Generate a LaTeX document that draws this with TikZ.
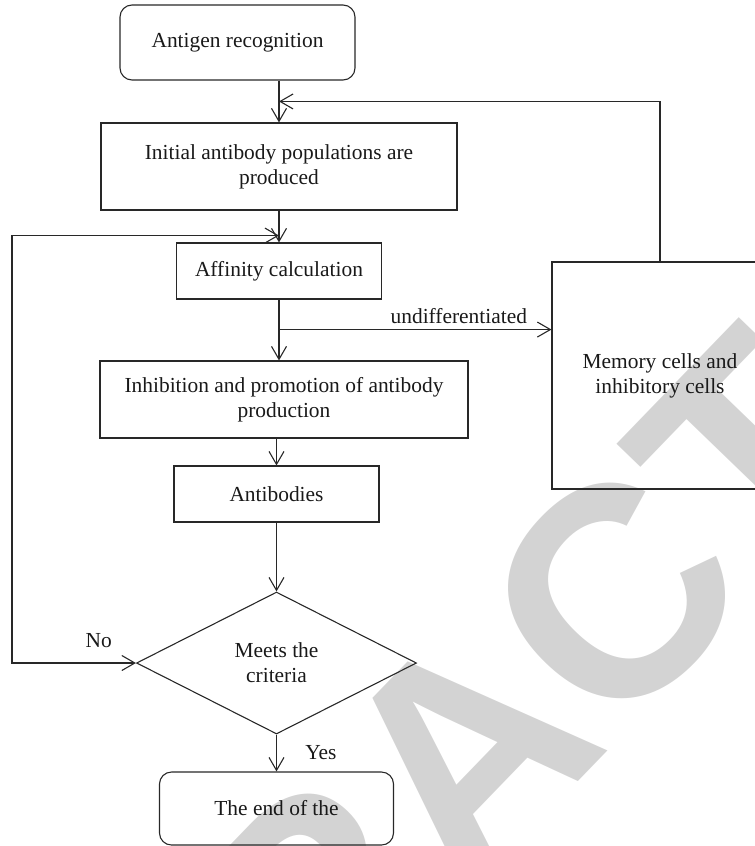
\documentclass[tikz,border=0pt]{standalone}
\usepackage{fontspec}
\setmainfont{Liberation Serif}
\newfontfamily\stampfont{Liberation Sans}
\usetikzlibrary{arrows.meta,shapes,positioning}
\definecolor{stampgray}{RGB}{211,211,211}
\definecolor{linegray}{RGB}{40,40,40}

\begin{document}
\begin{tikzpicture}[x=1bp, y=-1bp, on grid, >={Straight Barb[length=13bp,width=15bp]},
    font=\fontsize{21.5}{25}\selectfont,
    every node/.style={align=center, text=black!90},
    flow/.style={draw=linegray, line width=1.1bp},
    box/.style={flow, rectangle, inner sep=0pt},
    term/.style={box, rounded corners=12bp},
    choice/.style={flow, diamond, inner sep=0pt, minimum width=280bp, minimum height=142bp},
    stamp/.style={text=stampgray, font=\stampfont\bfseries\fontsize{300}{300}\selectfont, rotate=46, inner sep=0pt}]
    \useasboundingbox (0,0) rectangle (755,846);
    \clip (0,0) rectangle (755,846);
    % watermark behind the chart
    \node[stamp] (stamp) at (464,751) {RETRACTED};

    \node[term, minimum width=235bp, minimum height=75bp] (antigen) at (237.5,42.5) {Antigen recognition};
    \node[box, minimum width=356bp, minimum height=87bp]  (init)       [below=124bp of antigen, xshift=41.5bp] {Initial antibody populations are\\produced};
    \node[box, minimum width=205bp, minimum height=56bp]  (affinity)   [below=104.5bp of init]                 {Affinity calculation};
    \node[box, minimum width=368bp, minimum height=77bp]  (inhib)      [below=128.5bp of affinity, xshift=5bp] {Inhibition and promotion of antibody\\production};
    \node[box, minimum width=205bp, minimum height=56bp]  (antibodies) [below=94.5bp of inhib, xshift=-7.5bp]  {Antibodies};
    \node[choice]                                         (crit)       [below=169bp of antibodies]             {Meets the\\criteria};
    \node[term, minimum width=234bp, minimum height=73bp] (end)        [below=145.5bp of crit]                 {The end of the};
    \node[box, minimum width=216bp, minimum height=227bp] (memory)     [right=376bp of inhib, yshift=24bp]     {Memory cells and\\inhibitory cells};

    \coordinate[above=21bp of init.north]     (top join);
    \coordinate[below=25bp of init.south]     (loop join);
    \coordinate[below=30bp of affinity.south] (split);

    % main flow
    \draw[flow,->] (antigen.south -| init) -- (init);
    \draw[flow,->] (init) -- (affinity);
    \draw[flow,->] (affinity) -- (affinity |- inhib.north);
    \draw[flow,->] (inhib.south -| antibodies) -- (antibodies);
    \draw[flow,->] (antibodies) -- (crit);
    \draw[flow,->] (crit) -- (end) node[right=25bp, midway] {Yes};

    % side branches
    \draw[flow,->] (split) -- (split -| memory.west) node[above=2bp, pos=.66] {undifferentiated};
    \draw[flow,->] (memory) |- (top join);
    \draw[flow,<->] (loop join) -- ++(-267,0) |- (crit) node[above=11bp, pos=.85] {No};
\end{tikzpicture}
\end{document}
